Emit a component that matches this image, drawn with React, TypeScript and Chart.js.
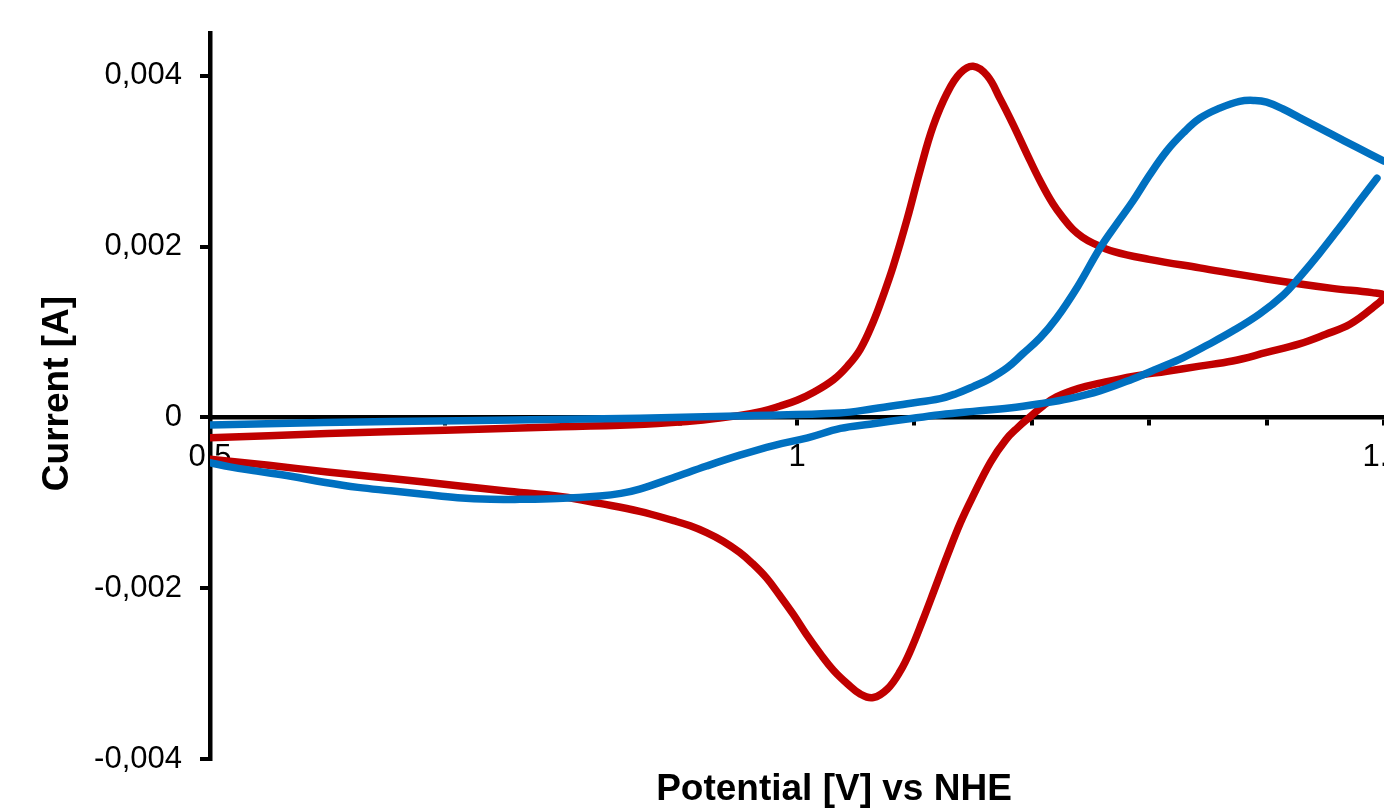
import React, { useEffect, useRef } from 'react';
import { Chart, registerables } from 'chart.js';

Chart.register(...registerables);

// Red voltammogram: forward scan (0.5 -> 1.5 V), then reverse scan (1.5 -> 0.5 V)
const redPotential = [
  0.5, 0.6, 0.7, 0.8, 0.87, 0.92, 0.95, 0.97, 0.985, 1.0, 1.015, 1.031, 1.043, 1.054, 1.065, 1.073,
  1.082, 1.094, 1.105, 1.116, 1.128, 1.139, 1.15, 1.162, 1.173, 1.184, 1.196, 1.207, 1.218, 1.227,
  1.235, 1.243, 1.252, 1.27, 1.3, 1.343, 1.4, 1.456, 1.49, 1.5,
  1.49, 1.471, 1.45, 1.428, 1.4, 1.371, 1.343, 1.315, 1.286, 1.258, 1.24, 1.221, 1.21, 1.198, 1.188,
  1.178, 1.165, 1.15, 1.139, 1.128, 1.117, 1.107, 1.097, 1.088, 1.077, 1.065, 1.054, 1.043, 1.031,
  1.02, 1.008, 0.997, 0.985, 0.974, 0.962, 0.951, 0.937, 0.923, 0.909, 0.895, 0.866, 0.833, 0.8,
  0.75, 0.711, 0.65, 0.6, 0.55, 0.5,
];
const redCurrent = [
  -0.00024, -0.00019, -0.00015, -0.00011, -0.00008, -0.00003, 0.00002, 0.00007, 0.00013, 0.0002,
  0.0003, 0.00044, 0.0006, 0.0008, 0.00112, 0.00141, 0.00177, 0.00233, 0.0029, 0.00341, 0.0038,
  0.00403, 0.00411, 0.004, 0.00373, 0.00343, 0.00308, 0.00277, 0.0025, 0.00233, 0.0022, 0.00211,
  0.00204, 0.00194, 0.00185, 0.00175, 0.00162, 0.00151, 0.00146, 0.00142,
  0.00128, 0.00109, 0.00097, 0.00086, 0.00076, 0.00066, 0.0006, 0.00054, 0.00048, 0.0004, 0.00034,
  0.00024, 0.00014, 0.0, -0.00012, -0.00026, -0.00052, -0.00092, -0.00124, -0.00162, -0.00202,
  -0.00238, -0.00272, -0.00297, -0.00318, -0.00328, -0.00324, -0.00312, -0.00296, -0.00277, -0.00254,
  -0.00231, -0.00208, -0.00188, -0.00171, -0.00158, -0.00145, -0.00135, -0.00127, -0.00121, -0.0011,
  -0.00101, -0.00093, -0.00086, -0.0008, -0.00071, -0.00064, -0.00056, -0.00049,
];

// Blue voltammogram: forward branch, a break (null), then the reverse branch
const bluePotential = [
  0.5, 0.597, 0.711, 0.866, 0.958, 1.036, 1.065, 1.094, 1.122, 1.136, 1.15, 1.164, 1.179, 1.192,
  1.207, 1.221, 1.239, 1.258, 1.272, 1.286, 1.3, 1.315, 1.329, 1.343, 1.36, 1.377, 1.39, 1.4, 1.414,
  1.428, 1.442, 1.456, 1.477, 1.5,
  null,
  1.494, 1.479, 1.462, 1.445, 1.428, 1.414, 1.394, 1.371, 1.35, 1.329, 1.307, 1.286, 1.258, 1.232,
  1.207, 1.181, 1.15, 1.122, 1.094, 1.062, 1.037, 1.009, 0.98, 0.952, 0.923, 0.894, 0.866, 0.85,
  0.832, 0.796, 0.764, 0.739, 0.711, 0.682, 0.654, 0.626, 0.597, 0.569, 0.54, 0.517, 0.5,
];
const blueCurrent = [
  -0.00009, -0.00006, -0.00004, -0.00001, 0.00002, 0.00005, 0.0001, 0.00016, 0.00022, 0.00028,
  0.00036, 0.00045, 0.00058, 0.00074, 0.00093, 0.00116, 0.00153, 0.00198, 0.00226, 0.00253, 0.00283,
  0.00312, 0.00333, 0.0035, 0.00362, 0.0037, 0.00371, 0.00369, 0.00361, 0.00351, 0.00341, 0.00331,
  0.00316, 0.003,
  null,
  0.0028, 0.00253, 0.00222, 0.00192, 0.00164, 0.00143, 0.00121, 0.00101, 0.00085, 0.0007, 0.00057,
  0.00045, 0.00031, 0.00022, 0.00016, 0.00011, 0.00007, 0.00003, -0.00002, -0.00008, -0.00013,
  -0.00024, -0.00033, -0.00044, -0.00057, -0.00071, -0.00084, -0.00089, -0.00092, -0.00095, -0.00096,
  -0.00096, -0.00094, -0.0009, -0.00086, -0.00082, -0.00076, -0.00069, -0.00063, -0.00058, -0.00053,
];

const xTickValues = [0.5, 0.6, 0.7, 0.8, 0.9, 1.0, 1.1, 1.2, 1.3, 1.4, 1.5];
const xTickLabels = ['0.5', '', '', '', '', '1', '', '', '', '', '1.5'];
const yTickValues = [-0.004, -0.002, 0, 0.002, 0.004];
const yTickLabels = ['-0,004', '-0,002', '0', '0,002', '0,004'];

const xTitle = 'Potential [V] vs NHE';
const yTitle = 'Current [A]';

const FONT = '"Liberation Sans", Arial, sans-serif';

const titlesPlugin = {
  id: 'axisTitles',
  afterDraw(chart: any) {
    const ctx = chart.ctx as CanvasRenderingContext2D;
    ctx.save();
    ctx.fillStyle = '#000000';
    ctx.font = `bold 37px ${FONT}`;
    ctx.textAlign = 'center';
    ctx.textBaseline = 'alphabetic';
    ctx.fillText(xTitle, 834, 800);
    ctx.translate(68, 393.5);
    ctx.rotate(-Math.PI / 2);
    ctx.fillText(yTitle, 0, 0);
    ctx.restore();
  },
};

function toPoints(xs: (number | null)[], ys: (number | null)[]) {
  return xs.map((x, i) => ({ x: x as any, y: ys[i] as any }));
}

export default function App() {
  const ref = useRef<HTMLCanvasElement | null>(null);
  useEffect(() => {
    if (!ref.current) return;
    const chart = new Chart(ref.current, {
      type: 'scatter',
      data: {
        datasets: [
          {
            label: 'blue',
            data: toPoints(bluePotential, blueCurrent),
            borderColor: '#0070C0',
            backgroundColor: '#0070C0',
            borderWidth: 7.5,
            pointRadius: 0,
            showLine: true,
            spanGaps: false,
            tension: 0.4,
            borderCapStyle: 'round',
            borderJoinStyle: 'round',
          } as any,
          {
            label: 'red',
            data: toPoints(redPotential, redCurrent),
            borderColor: '#C00000',
            backgroundColor: '#C00000',
            borderWidth: 7.5,
            pointRadius: 0,
            showLine: true,
            tension: 0.4,
            borderCapStyle: 'round',
            borderJoinStyle: 'round',
          } as any,
        ],
      },
      options: {
        animation: false,
        responsive: false,
        devicePixelRatio: 1,
        layout: { padding: { top: 33, bottom: 51, left: 0, right: 0 } },
        plugins: {
          legend: { display: false },
          tooltip: { enabled: false },
        },
        scales: {
          x: {
            type: 'linear',
            position: { y: 0 } as any,
            min: 0.5,
            max: 1.5,
            afterBuildTicks: (scale: any) => {
              scale.ticks = xTickValues.map((v) => ({ value: v }));
            },
            afterFit: (scale: any) => {
              scale.height = 0;
              scale.paddingLeft = 0;
              scale.paddingRight = 0;
            },
            ticks: {
              autoSkip: false,
              maxRotation: 0,
              minRotation: 0,
              padding: 16,
              color: '#000000',
              font: { family: FONT, size: 31 },
              callback: (_v: any, i: number) => xTickLabels[i],
            },
            grid: {
              drawOnChartArea: false,
              drawTicks: true,
              tickLength: 6,
              color: '#000000',
              lineWidth: 4,
            },
            border: { display: true, color: '#000000', width: 4.5 },
          },
          y: {
            type: 'linear',
            position: 'left',
            min: -0.004,
            max: 0.0045,
            afterBuildTicks: (scale: any) => {
              scale.ticks = yTickValues.map((v) => ({ value: v }));
            },
            afterFit: (scale: any) => {
              scale.width = 210;
              scale.paddingTop = 0;
              scale.paddingBottom = 0;
            },
            ticks: {
              padding: 18,
              color: '#000000',
              font: { family: FONT, size: 31 },
              callback: (_v: any, i: number) => yTickLabels[i],
            },
            grid: {
              drawOnChartArea: false,
              drawTicks: true,
              tickLength: 10,
              color: '#000000',
              lineWidth: 4,
            },
            border: { display: true, color: '#000000', width: 4.5 },
          },
        },
      } as any,
      plugins: [titlesPlugin],
    });
    return () => chart.destroy();
  }, []);
  return (
    <div style={{ position: 'absolute', left: 0, top: 0, width: 1384, height: 810, background: '#ffffff' }}>
      <canvas ref={ref} width={1384} height={810} style={{ display: 'block' }} />
    </div>
  );
}
